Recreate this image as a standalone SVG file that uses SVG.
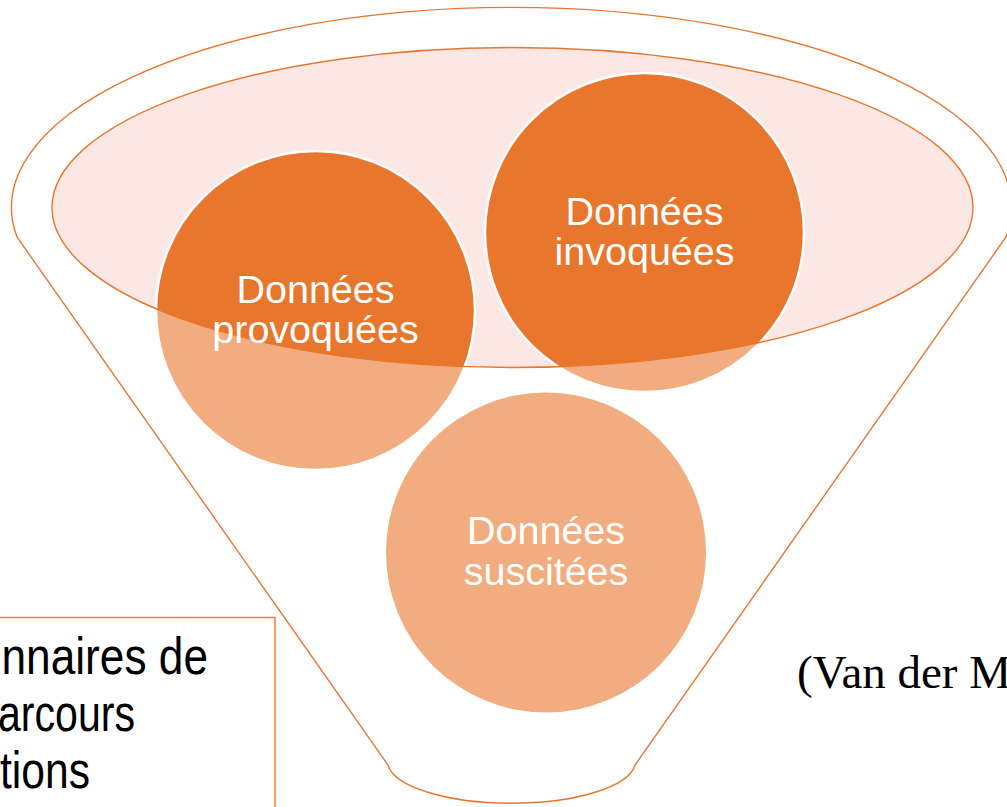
<svg xmlns="http://www.w3.org/2000/svg" width="1007" height="807" viewBox="0 0 1007 807">
  <style>
    .outline { fill: none; stroke: #E8772E; stroke-width: 1.4; }
    .light { fill: #F1AC7F; }
    .dark { fill: #E8762C; }
    .ring { fill: none; stroke: #FFFFFF; stroke-width: 2.5; }
    .lbl { font-family: "Liberation Sans", Arial, sans-serif; font-size: 39.5px; fill: #FFFFFF; text-anchor: middle; }
    .box { font-family: "Liberation Sans", Arial, sans-serif; font-size: 52px; fill: #000000; }
    .cite { font-family: "Liberation Serif", "Times New Roman", serif; font-size: 47px; fill: #000000; }
  </style>
  <defs>
    <clipPath id="ellClip">
      <ellipse cx="512.5" cy="207.5" rx="460.5" ry="160"/>
    </clipPath>
  </defs>
  <rect width="1007" height="807" fill="#FFFFFF"/>

  <g id="funnel">
    <path class="outline" d="M 17 237 A 500 200 0 1 1 1006 237 L 635 765 A 124 42 0 0 1 388 765 Z"/>
    <ellipse cx="512.5" cy="207.5" rx="460.5" ry="160" fill="#FBE8E4"/>
  </g>

  <g id="node-provoquees">
    <circle class="light" cx="315.5" cy="310.5" r="159.5"/>
    <circle class="dark" cx="315.5" cy="310.5" r="159.5" clip-path="url(#ellClip)"/>
    <circle class="ring" cx="315.5" cy="310.5" r="159.5"/>
  </g>
  <g id="node-invoquees">
    <circle class="light" cx="644.5" cy="232.5" r="159.5"/>
    <circle class="dark" cx="644.5" cy="232.5" r="159.5" clip-path="url(#ellClip)"/>
    <circle class="ring" cx="644.5" cy="232.5" r="159.5"/>
  </g>
  <g id="node-suscitees">
    <circle class="light" cx="546" cy="552.5" r="160"/>
  </g>

  <g id="funnel-rim">
    <ellipse class="outline" cx="512.5" cy="207.5" rx="460.5" ry="160"/>
  </g>

  <g id="labels">
    <text class="lbl" x="315.5" y="303">Données</text>
    <text class="lbl" x="315.5" y="343">provoquées</text>
    <text class="lbl" x="644.5" y="225">Données</text>
    <text class="lbl" x="644.5" y="265">invoquées</text>
    <text class="lbl" x="546" y="544">Données</text>
    <text class="lbl" x="546" y="585">suscitées</text>
  </g>

  <g id="textbox">
    <rect x="-2" y="617.5" width="277" height="200" fill="none" stroke="#ED7D31" stroke-width="1.5"/>
    <text class="box" x="1.5" y="674" textLength="206.5" lengthAdjust="spacingAndGlyphs">nnaires de</text>
    <text class="box" x="-2" y="731" textLength="137" lengthAdjust="spacingAndGlyphs">arcours</text>
    <text class="box" x="0" y="788" textLength="90" lengthAdjust="spacingAndGlyphs">tions</text>
  </g>

  <g id="citation">
    <text class="cite" x="797" y="688">(Van der M</text>
  </g>

  <g id="connectors"/>
</svg>
